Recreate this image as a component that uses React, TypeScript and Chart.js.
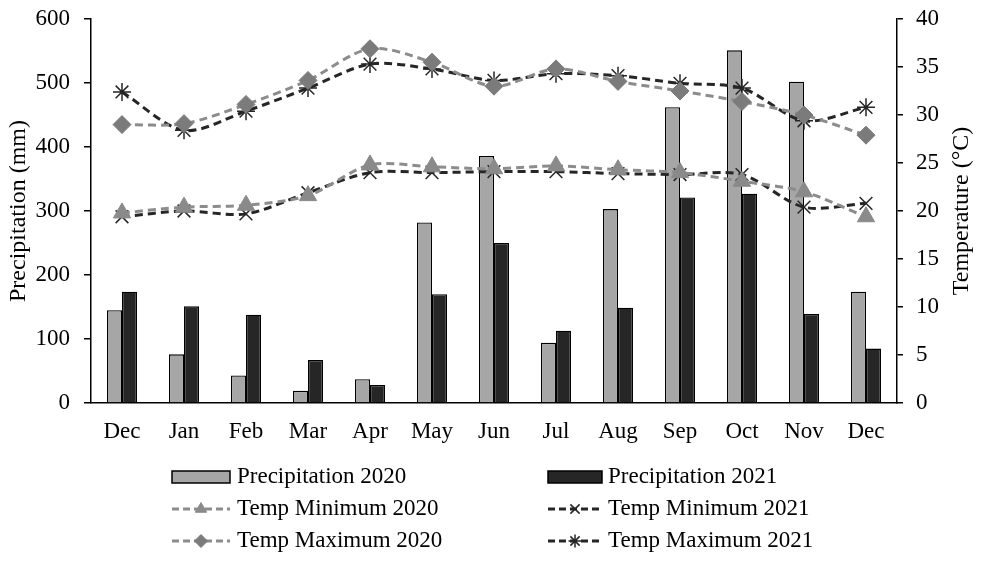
import React, { useEffect, useRef } from 'react';
import { Chart, registerables } from 'chart.js';
import { drawPoint } from 'chart.js/helpers';

Chart.register(...registerables);

const months = ['Dec', 'Jan', 'Feb', 'Mar', 'Apr', 'May', 'Jun', 'Jul', 'Aug', 'Sep', 'Oct', 'Nov', 'Dec'];
const precip2020 = [145, 76, 43, 19, 37, 282, 386, 94, 303, 462, 551, 502, 174];
const precip2021 = [174, 151, 138, 67, 28, 170, 250, 113, 149, 321, 327, 139, 85];
const tempMin2020 = [19.8, 20.4, 20.6, 21.6, 24.8, 24.6, 24.4, 24.7, 24.3, 24.0, 23.1, 22.0, 19.4];
const tempMin2021 = [19.4, 20.0, 19.7, 21.9, 24.0, 24.0, 24.1, 24.1, 23.9, 23.8, 23.8, 20.4, 20.8];
const tempMax2020 = [29.0, 29.1, 31.1, 33.6, 36.9, 35.5, 33.0, 34.8, 33.5, 32.5, 31.4, 30.0, 27.9];
const tempMax2021 = [32.4, 28.4, 30.4, 32.8, 35.3, 34.8, 33.6, 34.3, 34.1, 33.3, 32.8, 29.4, 30.8];

const leftTitle = 'Precipitation (mm)';
const rightTitle = 'Temperature (°C)';

const FONT = "'Liberation Serif', 'Times New Roman', serif";
const GRAY_LINE = '#8c8c8c';
const DARK = '#262626';

const legendPlugin = {
  id: 'customLegendTitles',
  afterDraw(chart: any) {
    const ctx: CanvasRenderingContext2D = chart.ctx;
    const ds = chart.data.datasets;
    ctx.save();
    ctx.fillStyle = '#000';
    ctx.font = `24px ${FONT}`;
    ctx.textAlign = 'center';
    ctx.textBaseline = 'middle';
    const midY = (chart.chartArea.top + chart.chartArea.bottom) / 2;
    ctx.save();
    ctx.translate(19, midY);
    ctx.rotate(-Math.PI / 2);
    ctx.fillText(leftTitle, 0, 0);
    ctx.restore();
    ctx.save();
    ctx.translate(962, midY);
    ctx.rotate(-Math.PI / 2);
    ctx.fillText(rightTitle, 0, 0);
    ctx.restore();

    const rows = [[0, 1], [2, 3], [4, 5]];
    const rowY = [477, 509, 541];
    const cols = [
      { x1: 172, x2: 230, tx: 237 },
      { x1: 548, x2: 602, tx: 608 },
    ];
    ctx.font = `23px ${FONT}`;
    ctx.textAlign = 'left';
    rows.forEach((row, ri) => {
      row.forEach((di, ci) => {
        const d = ds[di];
        const c = cols[ci];
        const y = rowY[ri];
        if (d.type === 'bar') {
          ctx.fillStyle = d.backgroundColor;
          ctx.fillRect(c.x1, y - 6, c.x2 - c.x1, 12);
          ctx.strokeStyle = '#000';
          ctx.lineWidth = 1.5;
          ctx.strokeRect(c.x1, y - 6, c.x2 - c.x1, 12);
        } else {
          ctx.strokeStyle = d.borderColor;
          ctx.lineWidth = 3;
          ctx.setLineDash([7, 4]);
          ctx.beginPath();
          ctx.moveTo(c.x1, y);
          ctx.lineTo(c.x2, y);
          ctx.stroke();
          ctx.setLineDash([]);
          ctx.fillStyle = d.pointBackgroundColor;
          ctx.strokeStyle = d.pointBorderColor;
          ctx.lineWidth = d.pointBorderWidth;
          drawPoint(ctx, { pointStyle: d.pointStyle, radius: 6.5, rotation: 0, borderWidth: d.pointBorderWidth } as any, (c.x1 + c.x2) / 2, y);
        }
        ctx.fillStyle = '#000';
        ctx.fillText(d.label, c.tx, y);
      });
    });
    ctx.restore();
  },
};

export default function App() {
  const ref = useRef<HTMLCanvasElement>(null);
  useEffect(() => {
    document.body.style.margin = '0';
    const lineBase = {
      type: 'line' as const,
      yAxisID: 'y1',
      borderWidth: 3,
      borderDash: [8, 5],
      tension: 0.3,
      fill: false,
      order: 1,
    };
    const chart = new Chart(ref.current as HTMLCanvasElement, {
      type: 'bar',
      data: {
        labels: months,
        datasets: [
          {
            type: 'bar',
            label: 'Precipitation 2020',
            data: precip2020,
            backgroundColor: '#a6a6a6',
            borderColor: '#000',
            borderWidth: 1.3,
            yAxisID: 'y',
            order: 2,
          },
          {
            type: 'bar',
            label: 'Precipitation 2021',
            data: precip2021,
            backgroundColor: DARK,
            borderColor: '#000',
            borderWidth: 1.3,
            yAxisID: 'y',
            order: 2,
          },
          {
            ...lineBase,
            label: 'Temp Minimum 2020',
            data: tempMin2020,
            borderColor: GRAY_LINE,
            pointStyle: 'triangle',
            pointRadius: 10,
            pointBackgroundColor: '#8a8a8a',
            pointBorderColor: '#8a8a8a',
            pointBorderWidth: 1,
          },
          {
            ...lineBase,
            label: 'Temp Minimum 2021',
            data: tempMin2021,
            borderColor: DARK,
            pointStyle: 'crossRot',
            pointRadius: 9,
            pointBackgroundColor: DARK,
            pointBorderColor: DARK,
            pointBorderWidth: 1.5,
          },
          {
            ...lineBase,
            label: 'Temp Maximum 2020',
            data: tempMax2020,
            borderColor: GRAY_LINE,
            pointStyle: 'rectRot',
            pointRadius: 9,
            pointBackgroundColor: '#7b7b7b',
            pointBorderColor: '#7b7b7b',
            pointBorderWidth: 1,
          },
          {
            ...lineBase,
            label: 'Temp Maximum 2021',
            data: tempMax2021,
            borderColor: DARK,
            pointStyle: 'star',
            pointRadius: 9,
            pointBackgroundColor: DARK,
            pointBorderColor: DARK,
            pointBorderWidth: 1.5,
          },
        ] as any,
      },
      options: {
        responsive: false,
        animation: false,
        devicePixelRatio: 1,
        layout: { padding: { top: 19, left: 0, right: 0, bottom: 0 } },
        datasets: {
          bar: { categoryPercentage: 0.484, barPercentage: 1 },
        } as any,
        plugins: {
          legend: { display: false },
          tooltip: { enabled: false },
        },
        scales: {
          x: {
            offset: true,
            grid: { display: false, drawTicks: false },
            border: { display: true, color: '#000', width: 1.5 },
            ticks: { color: '#000', font: { family: FONT, size: 23 }, padding: 15, maxRotation: 0, autoSkip: false },
            afterFit: (s: any) => { s.height = 163; s.paddingLeft = 0; s.paddingRight = 0; },
          },
          y: {
            position: 'left',
            min: 0,
            max: 600,
            ticks: { stepSize: 100, color: '#000', font: { family: FONT, size: 23 }, padding: 14 },
            grid: { drawOnChartArea: false, drawTicks: true, tickLength: 7, color: '#000', lineWidth: 1.5 },
            border: { display: true, color: '#000', width: 1.5 },
            afterFit: (s: any) => { s.width = 91; s.paddingTop = 0; s.paddingBottom = 0; },
          },
          y1: {
            position: 'right',
            min: 0,
            max: 40,
            ticks: { stepSize: 5, color: '#000', font: { family: FONT, size: 23 }, padding: 13 },
            grid: { drawOnChartArea: false, drawTicks: true, tickLength: 6, color: '#000', lineWidth: 1.5 },
            border: { display: true, color: '#000', width: 1.5 },
            afterFit: (s: any) => { s.width = 93; s.paddingTop = 0; s.paddingBottom = 0; },
          },
        },
      } as any,
      plugins: [legendPlugin],
    });
    return () => chart.destroy();
  }, []);
  return (
    <div style={{ width: 990, height: 566 }}>
      <canvas ref={ref} width={990} height={566} style={{ display: 'block' }} />
    </div>
  );
}
